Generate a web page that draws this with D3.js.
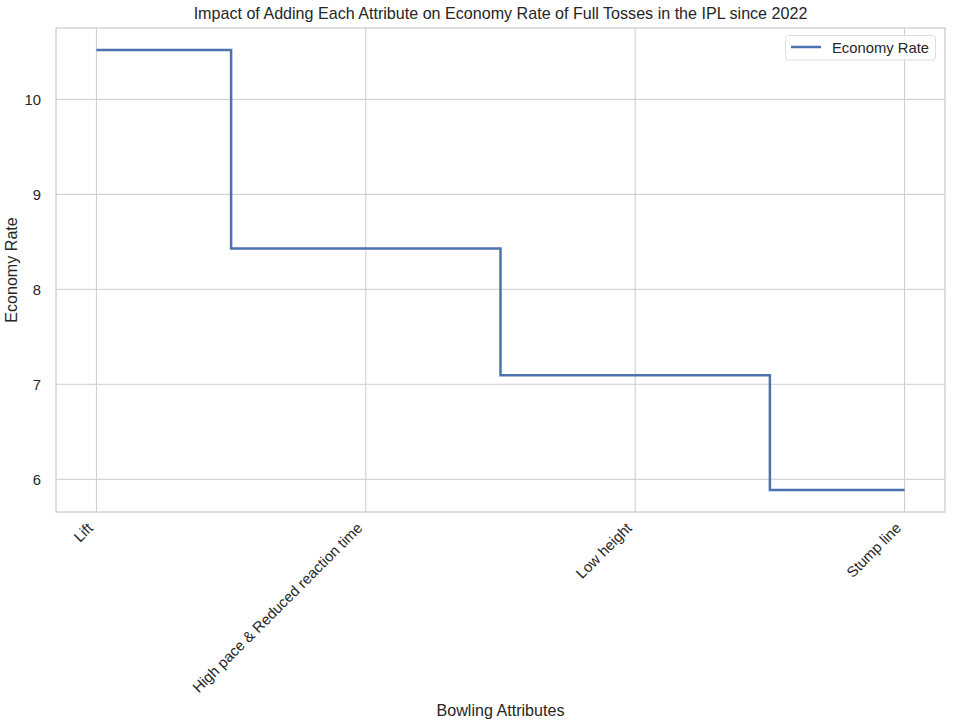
<!DOCTYPE html>
<html><head><meta charset="utf-8">
<script src="https://cdn.jsdelivr.net/npm/d3@7"></script>
<style>
body{margin:0;background:#fff;}
text{font-family:"Liberation Sans",Arial,sans-serif;fill:#262626;}
</style></head>
<body><svg id="c" width="958" height="722"></svg>
<script>
const categories = ["Lift", "High pace & Reduced reaction time", "Low height", "Stump line"];
const economyRate = [10.52, 8.43, 7.095, 5.887];
const yTicks = [6, 7, 8, 9, 10];
const seriesName = "Economy Rate";
const titleText = "Impact of Adding Each Attribute on Economy Rate of Full Tosses in the IPL since 2022";
const xLabel = "Bowling Attributes";
const yLabel = "Economy Rate";

const svg = d3.select("#c");
const L = 56, R = 945, T = 28, B = 512;
const fs = 14.8;
const fsL = 16.1;
const ff = '"Liberation Sans",Arial,sans-serif';

const idx = categories.map((d,i)=>i);
const x = d3.scaleLinear().domain([-0.15, categories.length - 1 + 0.15]).range([L, R]);
const ymin = d3.min(economyRate), ymax = d3.max(economyRate), pad = (ymax - ymin) * 0.05;
const y = d3.scaleLinear().domain([ymin - pad, ymax + pad]).range([B, T]);

// grid
const g = svg.append("g");
g.selectAll(".hg").data(yTicks).join("line")
  .attr("x1", L).attr("x2", R).attr("y1", d=>y(d)).attr("y2", d=>y(d))
  .attr("stroke", "#cccccc").attr("stroke-width", 1);
g.selectAll(".vg").data(idx).join("line")
  .attr("y1", T).attr("y2", B).attr("x1", d=>x(d)).attr("x2", d=>x(d))
  .attr("stroke", "#cccccc").attr("stroke-width", 1);

// axes via d3
const yAxis = d3.axisLeft(y).tickValues(yTicks).tickSize(0).tickPadding(15).tickFormat(d3.format("d"));
const ya = svg.append("g").attr("transform", `translate(${L},0)`).call(yAxis);
ya.select(".domain").remove();
ya.selectAll("text").style("font-size", fs+"px").style("font-family", ff).attr("fill", "#262626");

const xAxis = d3.axisBottom(x).tickValues(idx).tickSize(0).tickPadding(0).tickFormat(i=>categories[i]);
const xa = svg.append("g").attr("transform", `translate(0,${B})`).call(xAxis);
xa.select(".domain").remove();
xa.selectAll("text").style("font-size", fs+"px").style("font-family", ff).attr("fill", "#262626")
  .attr("text-anchor", "end").attr("dy", null).attr("y", 0)
  .attr("transform", "translate(-3,17) rotate(-45)");

// frame
svg.append("rect").attr("x", L).attr("y", T).attr("width", R-L).attr("height", B-T)
  .attr("fill", "none").attr("stroke", "#cccccc").attr("stroke-width", 1.25);

// step line
const line = d3.line().x((d,i)=>x(i)).y(d=>y(d)).curve(d3.curveStep);
svg.append("path").datum(economyRate).attr("d", line)
  .attr("fill", "none").attr("stroke", "#4c72b0").attr("stroke-width", 2.5);

// title & labels
svg.append("text").attr("x", (L+R)/2).attr("y", 19).attr("text-anchor", "middle")
  .style("font-size", fsL+"px").text(titleText);
svg.append("text").attr("x", (L+R)/2).attr("y", 716).attr("text-anchor", "middle")
  .style("font-size", fsL+"px").text(xLabel);
svg.append("text").attr("transform", `translate(17,${(T+B)/2}) rotate(-90)`).attr("text-anchor", "middle")
  .style("font-size", fsL+"px").text(yLabel);

// legend
const lg = svg.append("g");
lg.append("rect").attr("x", 785.5).attr("y", 35.5).attr("width", 150).attr("height", 24.5).attr("rx", 3)
  .attr("fill", "#fff").attr("fill-opacity", 0.8).attr("stroke", "#dddddd");
lg.append("line").attr("x1", 791).attr("x2", 821).attr("y1", 47).attr("y2", 47)
  .attr("stroke", "#4c72b0").attr("stroke-width", 2.5);
lg.append("text").attr("x", 832).attr("y", 52.5).style("font-size", fs+"px").text(seriesName);
</script></body></html>
